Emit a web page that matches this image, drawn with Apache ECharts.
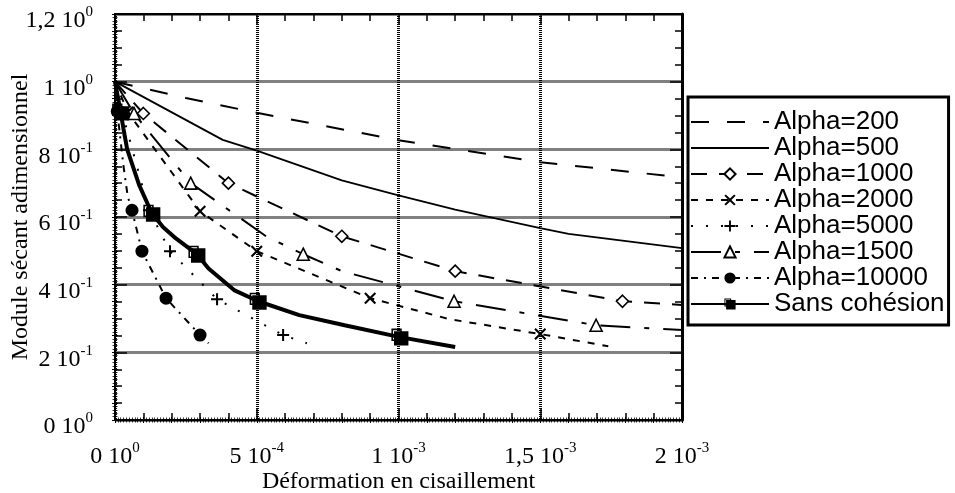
<!DOCTYPE html>
<html>
<head>
<meta charset="utf-8">
<script src="https://cdn.jsdelivr.net/npm/echarts@6/dist/echarts.min.js"></script>
<style>html,body{margin:0;padding:0;background:#fff}#c{width:955px;height:493px}</style>
</head>
<body>
<div id="c"></div>
<script>
// ---- Data (strain, dimensionless secant modulus) ----
const xTickLabels = [['0','0'],['5','-4'],['1','-3'],['1,5','-3'],['2','-3']];
const yTickLabels = [['0','0'],['2','-1'],['4','-1'],['6','-1'],['8','-1'],['1','0'],['1,2','0']];

const alpha200Strain = [0, 0.25e-3, 0.5e-3, 1.0e-3, 1.5e-3, 2.0e-3];
const alpha200Module = [1, 0.952, 0.908, 0.827, 0.762, 0.717];
const alpha200Marks  = [];

const alpha500Strain = [0, 0.38e-3, 0.5e-3, 0.8e-3, 1.0e-3, 1.2e-3, 1.5e-3, 1.6e-3, 2.0e-3];
const alpha500Module = [1, 0.828, 0.796, 0.708, 0.664, 0.622, 0.567, 0.55, 0.508];
const alpha500Marks  = [];

const alpha1000Strain = [0, 0.1e-3, 0.4e-3, 0.8e-3, 1.2e-3, 1.79e-3, 2.0e-3];
const alpha1000Module = [1, 0.906, 0.70, 0.543, 0.44, 0.351, 0.34];
const alpha1000Marks  = [1, 2, 3, 4, 5];

const alpha2000Strain = [0, 0.045e-3, 0.3e-3, 0.5e-3, 0.9e-3, 1.18e-3, 1.5e-3, 1.74e-3];
const alpha2000Module = [1, 0.91, 0.617, 0.499, 0.36, 0.298, 0.254, 0.218];
const alpha2000Marks  = [1, 2, 3, 4, 6];

const alpha5000Strain = [0, 0.025e-3, 0.12e-3, 0.194e-3, 0.36e-3, 0.593e-3, 0.677e-3];
const alpha5000Module = [1, 0.91, 0.62, 0.499, 0.357, 0.251, 0.227];
const alpha5000Marks  = [1, 2, 3, 4, 5];

const alpha1500Strain = [0, 0.067e-3, 0.267e-3, 0.533e-3, 0.664e-3, 0.8e-3, 1.196e-3, 1.697e-3, 2.0e-3];
const alpha1500Module = [1, 0.906, 0.70, 0.543, 0.49, 0.44, 0.351, 0.28, 0.266];
const alpha1500Marks  = [1, 2, 4, 6, 7];

const alpha10000Strain = [0, 0.008e-3, 0.03e-3, 0.045e-3, 0.06e-3, 0.095e-3, 0.18e-3, 0.3e-3, 0.33e-3];
const alpha10000Module = [1, 0.912, 0.75, 0.66, 0.62, 0.499, 0.36, 0.251, 0.227];
const alpha10000Marks  = [1, 4, 5, 6, 7];

const sansStrain = [0, 0.02e-3, 0.03e-3, 0.043e-3, 0.085e-3, 0.13e-3, 0.17e-3, 0.21e-3, 0.289e-3, 0.33e-3, 0.42e-3, 0.505e-3, 0.65e-3, 0.81e-3, 1.005e-3, 1.2e-3];
const sansModule = [1, 0.91, 0.86, 0.8, 0.695, 0.611, 0.57, 0.54, 0.49, 0.448, 0.384, 0.351, 0.31, 0.28, 0.245, 0.216];
const sansMarks  = [1, 5, 8, 11, 14];

// ---- Styles ----
const SERIF = 'Liberation Serif';
const SANS = 'Liberation Sans';
const crossPath = 'path://M0,1.5 L1.5,0 L6,4.5 L10.5,0 L12,1.5 L7.5,6 L12,10.5 L10.5,12 L6,7.5 L1.5,12 L0,10.5 L4.5,6 Z';
const plusPath = 'path://M5,0 H7 V5 H12 V7 H7 V12 H5 V7 H0 V5 H5 Z';
const sansPath = 'path://M0,0 H10 V12 H0 Z M1.5,1.5 V10.5 H8.5 V1.5 Z M2.5,2.5 H16.5 V16.5 H2.5 Z';

function makeSeries(name, xs, ys, marks, lineStyle, sym, z) {
  const data = xs.map((x, i) => marks.indexOf(i) >= 0 ? { value: [x, ys[i]] } : { value: [x, ys[i]], symbol: 'none' });
  return {
    type: 'line', name, data, xAxisIndex: 0, yAxisIndex: 0,
    showAllSymbol: true, smooth: false, z: z,
    lineStyle: Object.assign({ color: '#000' }, lineStyle),
    symbol: sym.symbol, symbolSize: sym.size, itemStyle: sym.item,
    emphasis: { disabled: true }, animation: false
  };
}
const noSym = { symbol: 'circle', size: 0, item: { color: 'rgba(0,0,0,0)', borderWidth: 0 } };

const series = [
  makeSeries('Alpha=200', alpha200Strain, alpha200Module, alpha200Marks, { width: 2, type: [18, 18] }, noSym, 2),
  makeSeries('Alpha=500', alpha500Strain, alpha500Module, alpha500Marks, { width: 1.8, type: 'solid' }, noSym, 2),
  makeSeries('Alpha=1000', alpha1000Strain, alpha1000Module, alpha1000Marks, { width: 2, type: [16, 12] },
    { symbol: 'diamond', size: 12, item: { color: '#fff', borderColor: '#000', borderWidth: 1.6 } }, 3),
  makeSeries('Alpha=2000', alpha2000Strain, alpha2000Module, alpha2000Marks, { width: 2, type: [7, 8] },
    { symbol: crossPath, size: 12, item: { color: '#000', borderWidth: 0 } }, 3),
  makeSeries('Alpha=5000', alpha5000Strain, alpha5000Module, alpha5000Marks, { width: 2, type: [2, 13] },
    { symbol: plusPath, size: 12, item: { color: '#000', borderWidth: 0 } }, 3),
  makeSeries('Alpha=1500', alpha1500Strain, alpha1500Module, alpha1500Marks, { width: 2, type: [30, 14, 5, 14] },
    { symbol: 'triangle', size: 12, item: { color: '#fff', borderColor: '#000', borderWidth: 1.6 } }, 3),
  makeSeries('Alpha=10000', alpha10000Strain, alpha10000Module, alpha10000Marks, { width: 2, type: [7, 6, 2, 6] },
    { symbol: 'circle', size: 13, item: { color: '#000', borderWidth: 0 } }, 4),
  makeSeries('Sans cohésion', sansStrain, sansModule, sansMarks, { width: 4, type: 'solid' },
    { symbol: sansPath, size: 17, item: { color: '#000', borderWidth: 0 } }, 5)
];

const rich = {
  b: { fontFamily: SERIF, fontSize: 24, lineHeight: 28, color: '#000', verticalAlign: 'bottom' },
  s: { fontFamily: SERIF, fontSize: 15, lineHeight: 11, color: '#000', verticalAlign: 'top' }
};
function fmt(labels, step) {
  return function (v) {
    const l = labels[Math.round(v / step)];
    return l ? '{b|' + l[0] + ' 10}{s|' + l[1] + '}' : '';
  };
}
const blk = '#000';
function mainX(pos, labels) {
  return {
    type: 'value', position: pos, min: 0, max: 0.002, interval: 0.0005,
    axisLine: { show: true, onZero: false, lineStyle: { color: blk, width: 2 } },
    axisTick: { show: true, inside: true, length: 11, lineStyle: { color: blk, width: 1.5 } },
    minorTick: { show: true, splitNumber: 5, length: 7, lineStyle: { color: blk, width: 1.5 } },
    splitLine: { show: labels, lineStyle: { color: '#000', width: 3, type: [1, 1] } },
    axisLabel: labels ? { show: true, margin: 21, formatter: fmt(xTickLabels, 0.0005), rich: rich } : { show: false },
    name: labels ? 'Déformation en cisaillement' : '', nameLocation: 'middle', nameGap: 50, nameMoveOverlap: false,
    nameTextStyle: { fontFamily: SERIF, fontSize: 24, color: '#000' }
  };
}
function fineX(pos) {
  return {
    type: 'value', position: pos, min: 0, max: 0.002, interval: 0.0001,
    axisLine: { show: false }, axisLabel: { show: false }, splitLine: { show: false },
    axisTick: { show: true, inside: true, length: 3, lineStyle: { color: blk, width: 1 } },
    minorTick: { show: true, splitNumber: 10, length: 2.5, lineStyle: { color: blk, width: 0.8 } }
  };
}
function mainY(pos, labels) {
  return {
    type: 'value', position: pos, min: 0, max: 1.2, interval: 0.2,
    axisLine: { show: true, onZero: false, lineStyle: { color: blk, width: pos === 'right' ? 3 : 2 } },
    axisTick: { show: true, inside: true, length: 12, lineStyle: { color: blk, width: 1.5 } },
    minorTick: { show: true, splitNumber: 4, length: 7, lineStyle: { color: blk, width: 1.5 } },
    splitLine: { show: labels, lineStyle: { color: '#808080', width: 3 } },
    axisLabel: labels ? { show: true, margin: 22, padding: [10, 0, 0, 0], formatter: fmt(yTickLabels, 0.2), rich: rich } : { show: false },
    name: labels ? 'Module sécant adimensionnel' : '', nameLocation: 'middle', nameGap: 82, nameRotate: 90, nameMoveOverlap: false,
    nameTextStyle: { fontFamily: SERIF, fontSize: 24, color: '#000' }
  };
}
function fineY(pos) {
  return {
    type: 'value', position: pos, min: 0, max: 1.2, interval: 0.05,
    axisLine: { show: false }, axisLabel: { show: false }, splitLine: { show: false },
    axisTick: { show: true, inside: true, length: 3, lineStyle: { color: blk, width: 1 } },
    minorTick: { show: true, splitNumber: 5, length: 2.5, lineStyle: { color: blk, width: 0.8 } }
  };
}

const chart = echarts.init(document.getElementById('c'), null, { renderer: 'canvas' });
chart.setOption({
  animation: false,
  backgroundColor: '#fff',
  grid: { left: 115, right: 273, top: 14, bottom: 73, containLabel: false, outerBoundsMode: 'none' },
  xAxis: [mainX('bottom', true), mainX('top', false), fineX('bottom'), fineX('top')],
  yAxis: [mainY('left', true), mainY('right', false), fineY('left'), fineY('right')],
  legend: {
    orient: 'vertical', left: 688, top: 97,
    padding: [12, 4, 8, 2], itemWidth: 78, itemHeight: 14, itemGap: 0,
    borderColor: '#000', borderWidth: 3, backgroundColor: '#fff',
    textStyle: { fontFamily: SANS, fontSize: 26, color: '#000', lineHeight: 26 },
    selectedMode: false,
    data: series.map(s => s.name)
  },
  series: series
});
</script>
</body>
</html>
